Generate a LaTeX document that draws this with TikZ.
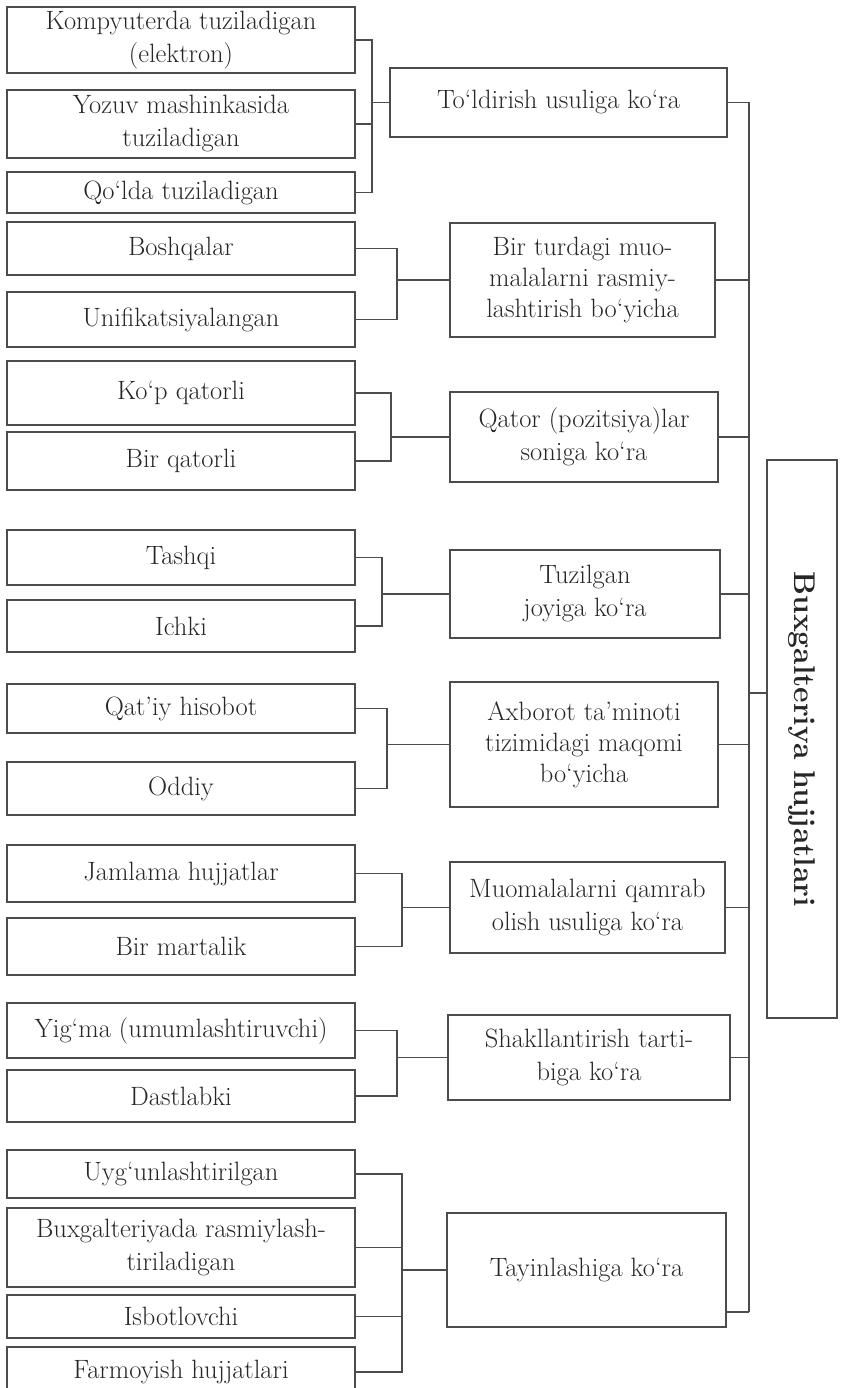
\documentclass[tikz,border=0pt]{standalone}
\begin{document}
\begin{tikzpicture}[x=1pt,y=-1pt,
    box/.style={draw=black!70,line width=1.8pt,align=center,inner sep=0pt,
      font=\fontsize{26.5}{33}\selectfont,text=black!85},
    leaf/.style={box,minimum width=348pt},
    conn/.style={draw=black!70,line width=1.8pt}]
    \useasboundingbox (0,0) rectangle (841,1388);

    % chap ustun
    \node[leaf,minimum height=66pt] (kom) at (181,40) {Kompyuterda tuziladigan\\(elektron)};
    \node[leaf,minimum height=68pt] (yoz) at (181,124) {Yozuv mashinkasida\\tuziladigan};
    \node[leaf,minimum height=41pt] (qol) at (181,192.5) {Qo‘lda tuziladigan};
    \node[leaf,minimum height=53pt] (bosh) at (181,248.5) {Boshqalar};
    \node[leaf,minimum height=55pt] (unif) at (181,319.5) {Unifikatsiyalangan};
    \node[leaf,minimum height=64pt] (kop) at (181,393) {Ko‘p qatorli};
    \node[leaf,minimum height=58pt] (birq) at (181,461) {Bir qatorli};
    \node[leaf,minimum height=55pt] (tash) at (181,557.5) {Tashqi};
    \node[leaf,minimum height=52pt] (ichk) at (181,626) {Ichki};
    \node[leaf,minimum height=49pt] (qat) at (181,708.5) {Qat’iy hisobot};
    \node[leaf,minimum height=53pt] (odd) at (181,788.5) {Oddiy};
    \node[leaf,minimum height=57pt] (jam) at (181,873.5) {Jamlama hujjatlar};
    \node[leaf,minimum height=57pt] (birm) at (181,946.5) {Bir martalik};
    \node[leaf,minimum height=55pt] (yig) at (181,1030.5) {Yig‘ma (umumlashtiruvchi)};
    \node[leaf,minimum height=52pt] (dast) at (181,1096) {Dastlabki};
    \node[leaf,minimum height=48pt] (uyg) at (181,1174) {Uyg‘unlashtirilgan};
    \node[leaf,minimum height=79pt] (buxr) at (181,1247.5) {Buxgalteriyada rasmiylash-\\tiriladigan};
    \node[leaf,minimum height=43pt] (isb) at (181,1316.5) {Isbotlovchi};
    \node[leaf,minimum height=50pt] (farm) at (181,1372) {Farmoyish hujjatlari};

    % o'rta ustun
    \node[box,minimum width=337pt,minimum height=69pt] (tol) at (558.5,102.5) {To‘ldirish usuliga ko‘ra};
    \node[box,minimum width=265pt,minimum height=114pt,font=\fontsize{26.5}{31}\selectfont] (birt) at (582.5,280) {Bir turdagi muo-\\malalarni rasmiy-\\lashtirish bo‘yicha};
    \node[box,minimum width=268pt,minimum height=90pt] (qator) at (584,437) {Qator (pozitsiya)lar\\soniga ko‘ra};
    \node[box,minimum width=270pt,minimum height=88pt] (tuz) at (585,594) {Tuzilgan\\joyiga ko‘ra};
    \node[box,minimum width=268pt,minimum height=125pt,font=\fontsize{26.5}{31}\selectfont] (axb) at (584,744.5) {Axborot ta’minoti\\tizimidagi maqomi\\bo‘yicha};
    \node[box,minimum width=275pt,minimum height=91pt] (muom) at (587.5,907.5) {Muomalalarni qamrab\\olish usuliga ko‘ra};
    \node[box,minimum width=282pt,minimum height=85pt] (shak) at (589,1057.5) {Shakllantirish tarti-\\biga ko‘ra};
    \node[box,minimum width=279pt,minimum height=114pt] (tay) at (586.5,1270) {Tayinlashiga ko‘ra};

    % o'ng quti
    \node[box,rotate=-90,minimum width=558pt,minimum height=70pt,
      font=\fontsize{30}{34}\selectfont\bfseries] (buh) at (802,739) {Buxgalteriya hujjatlari};

    % qavslar
    \draw[conn] (tol.west) -- ++(-17,0) coordinate (b1);
    \draw[conn] (kom.east) -| (b1);
    \draw[conn] (yoz.east) -| (b1);
    \draw[conn] (qol.east) -| (b1);

    \draw[conn] (birt.west) -- ++(-52,0) coordinate (b2);
    \draw[conn] (bosh.east) -| (b2);
    \draw[conn] (unif.east) -| (b2);

    \draw[conn] (qator.west) -- ++(-58,0) coordinate (b3);
    \draw[conn] (kop.east) -| (b3);
    \draw[conn] (birq.east) -| (b3);

    \draw[conn] (tuz.west) -- ++(-67,0) coordinate (b4);
    \draw[conn] (tash.east) -| (b4);
    \draw[conn] (ichk.east) -| (b4);

    \draw[conn] (axb.west) -- ++(-62,0) coordinate (b5);
    \draw[conn] (qat.east) -| (b5);
    \draw[conn] (odd.east) -| (b5);

    \draw[conn] (muom.west) -- ++(-47,0) coordinate (b6);
    \draw[conn] (jam.east) -| (b6);
    \draw[conn] (birm.east) -| (b6);

    \draw[conn] (shak.west) -- ++(-50,0) coordinate (b7);
    \draw[conn] (yig.east) -| (b7);
    \draw[conn] (dast.east) -| (b7);

    \draw[conn] (tay.west) -- ++(-44,0) coordinate (b8);
    \draw[conn] (uyg.east) -| (b8);
    \draw[conn] (buxr.east) -| (b8);
    \draw[conn] (isb.east) -| (b8);
    \draw[conn] (farm.east) -| (b8);

    % magistral chiziq
    \coordinate (trunk) at (749,0);
    \coordinate (tayout) at ([yshift=-42pt]tay.east);
    \draw[conn] (tol.east -| trunk) -- (tayout -| trunk);
    \foreach \m in {tol,birt,qator,tuz,axb,muom,shak}
      \draw[conn] (\m.east) -- (\m.east -| trunk);
    \draw[conn] (tayout) -- (tayout -| trunk);
    \draw[conn] (trunk |- 0,693) -- (buh.south |- 0,693);
  \end{tikzpicture}
\end{document}
